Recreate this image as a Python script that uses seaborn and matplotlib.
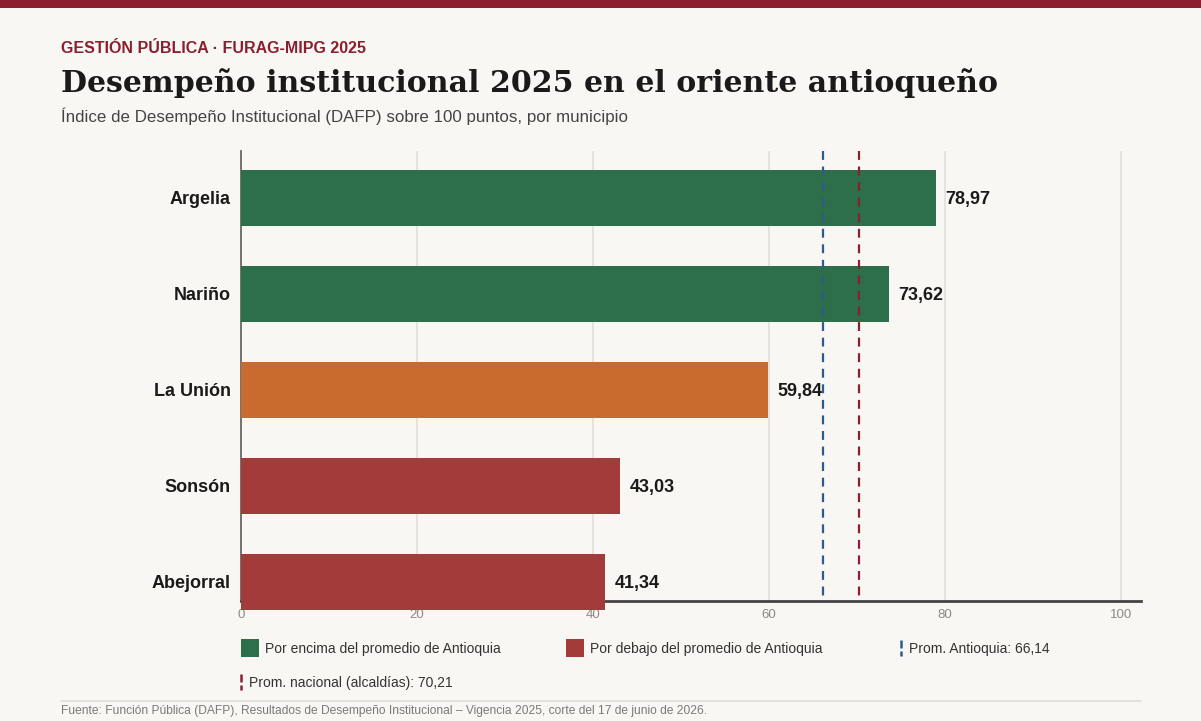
import matplotlib
matplotlib.use("Agg")
import matplotlib.pyplot as plt
from matplotlib.patches import Rectangle
from matplotlib.lines import Line2D
import seaborn as sns
import pandas as pd

# datos
municipios = ["Argelia", "Nariño", "La Unión", "Sonsón", "Abejorral"]
valores = [78.97, 73.62, 59.84, 43.03, 41.34]
grupos = ["encima", "encima", "intermedio", "debajo", "debajo"]
prom_antioquia = 66.14
prom_nacional = 70.21
xticks = [0, 20, 40, 60, 80, 100]

colores = {"encima": "#2d6e4b", "intermedio": "#c96a2f", "debajo": "#a33b3b"}
FONDO = "#f9f7f3"
GRANATE = "#8c1f2f"
AZUL = "#2f5a8c"

sns.set_theme(style="white")
plt.rcParams["font.family"] = ["Liberation Sans", "DejaVu Sans"]

W, H = 1201, 721
fig = plt.figure(figsize=(W / 100, H / 100), dpi=100, facecolor=FONDO)

def fx(px):
    return px / W

def fy(py):
    return 1 - py / H

ax = fig.add_axes([fx(241), fy(601), fx(1141) - fx(241), fy(151) - fy(601)])
ax.set_facecolor(FONDO)

df = pd.DataFrame({"municipio": municipios, "valor": valores, "grupo": grupos})
sns.barplot(data=df, x="valor", y="municipio", hue="grupo", palette=colores,
            saturation=1, dodge=False, width=0.583, legend=False, ax=ax, zorder=3)
for p in ax.patches:
    p.set_clip_on(False)
    p.set_linewidth(0)

ax.set_xlim(0, 102.27)
ax.set_ylim(4 + 19 / 96, -47 / 96)

for v in xticks[1:]:
    ax.axvline(v, color="#e3e0db", lw=1.2, zorder=1)
# lineas de referencia, trazadas de arriba hacia abajo
ax.axvline(prom_antioquia, ymin=1, ymax=0.01, color=AZUL, lw=1.6, ls=(0, (4, 3)), zorder=4)
ax.axvline(prom_nacional, ymin=1, ymax=0.01, color=GRANATE, lw=1.6, ls=(0, (4, 3)), zorder=4)

for i, v in enumerate(valores):
    ax.text(v + 1.1, i, f"{v:.2f}".replace(".", ","), va="center_baseline", ha="left",
            fontsize=13, fontweight="bold", color="#1a1a1a", zorder=5)

ax.set_xticks(xticks)
ax.set_xticklabels([str(t) for t in xticks], fontsize=9.5, color="#8a8a8a")
ax.tick_params(axis="x", length=0, pad=5.5)
ax.tick_params(axis="y", length=0, pad=7.2, labelsize=13)
for lab in ax.get_yticklabels():
    lab.set_fontweight("bold")
    lab.set_color("#1a1a1a")
ax.set_xlabel("")
ax.set_ylabel("")
for s in ["top", "right"]:
    ax.spines[s].set_visible(False)
ax.spines["left"].set_color("#666666")
ax.spines["left"].set_linewidth(1.3)
ax.spines["bottom"].set_color("#444444")
ax.spines["bottom"].set_linewidth(2)
ax.spines["left"].set_zorder(2)

# franja superior y encabezado
fig.add_artist(Rectangle((0, fy(8)), 1, 8 / H, transform=fig.transFigure,
                         color=GRANATE, lw=0))
fig.text(fx(61), fy(48.5), "GESTIÓN PÚBLICA · FURAG-MIPG 2025", fontsize=11.5,
         fontweight="bold", color=GRANATE, va="center", ha="left")
fig.text(fx(61), fy(83), "Desempeño institucional 2025 en el oriente antioqueño",
         fontsize=21.6, fontweight="bold", family=["DejaVu Serif"], color="#1a1a1a",
         va="center", ha="left")
fig.text(fx(61), fy(116), "Índice de Desempeño Institucional (DAFP) sobre 100 puntos, por municipio",
         fontsize=12.2, color="#444444", va="center", ha="left")

# leyenda
def caja(x, y, color, texto):
    fig.add_artist(Rectangle((fx(x), fy(y + 9)), 18 / W, 18 / H,
                             transform=fig.transFigure, color=color, lw=0))
    fig.text(fx(x + 24), fy(y + 1), texto, fontsize=10, color="#333333",
             va="center", ha="left")

def guion(x, y, color, texto):
    fig.add_artist(Line2D([fx(x), fx(x)], [fy(y - 8), fy(y + 8)],
                          transform=fig.transFigure, color=color, lw=1.8,
                          ls=(0, (3.2, 1.2))))
    fig.text(fx(x + 8), fy(y + 1), texto, fontsize=10, color="#333333",
             va="center", ha="left")

caja(241, 648, colores["encima"], "Por encima del promedio de Antioquia")
caja(566, 648, colores["debajo"], "Por debajo del promedio de Antioquia")
guion(901, 648, AZUL, "Prom. Antioquia: 66,14")
guion(241, 682, GRANATE, "Prom. nacional (alcaldías): 70,21")

fig.add_artist(Line2D([fx(61), fx(1141)], [fy(701), fy(701)],
                      transform=fig.transFigure, color="#e0ddd8", lw=1.2))
fig.text(fx(61), fy(711), "Fuente: Función Pública (DAFP), Resultados de Desempeño Institucional – Vigencia 2025, corte del 17 de junio de 2026.",
         fontsize=8.65, color="#7a7a7a", va="center", ha="left")

fig.savefig("out.png", dpi=100, facecolor=FONDO)
